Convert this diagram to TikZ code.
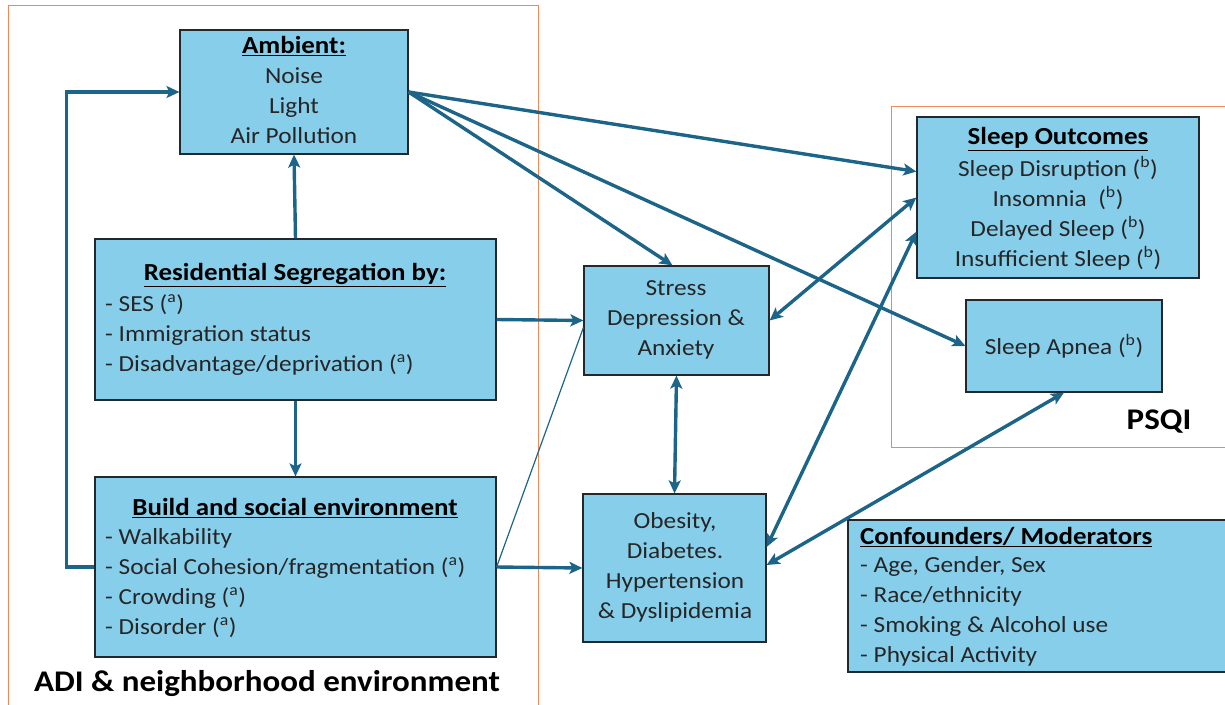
\documentclass[tikz,border=0pt]{standalone}
\usepackage{fontspec}
\setmainfont{Carlito}[FakeStretch=1.1]
\usetikzlibrary{arrows.meta,calc}
\definecolor{boxfill}{RGB}{135,206,235}
\definecolor{boxedge}{RGB}{35,40,45}
\definecolor{linkblue}{RGB}{28,100,136}
\definecolor{frameorange}{RGB}{240,135,85}
\definecolor{textgray}{RGB}{38,38,38}
\begin{document}
\begin{tikzpicture}[x=1pt,y=-1pt,
  box/.style={draw=boxedge,line width=1.2pt,fill=boxfill,inner sep=0pt},
  txt/.style={text=textgray,font=\fontsize{23}{30}\selectfont,inner sep=0pt,align=center},
  listtxt/.style={txt,align=left,anchor=west},
  head/.style={text=black,font=\bfseries\fontsize{24.5}{30}\selectfont,inner sep=0pt},
  label/.style={text=black,font=\bfseries\fontsize{30}{32}\selectfont,inner sep=0pt},
  link/.style={draw=linkblue,line width=3.4pt,-{Stealth[length=13pt,width=12pt,inset=3pt]}},
  both/.style={draw=linkblue,line width=3.4pt,{Stealth[length=13pt,width=12pt,inset=3pt]}-{Stealth[length=13pt,width=12pt,inset=3pt]}},
  frame/.style={draw=frameorange,line width=1pt}]
\clip (0,0) rectangle (1225,704);

% group frames
\draw[frame] (8,5) rectangle (538,720);
\draw[frame] (891,106) rectangle (1240,447);

% boxes
\node[box,minimum width=228pt,minimum height=124pt] (amb) at (294,92) {};
\node[box,minimum width=401pt,minimum height=161pt] (res) at (295.5,319.5) {};
\node[box,minimum width=401pt,minimum height=180pt] (build) at (295.5,567) {};
\node[box,minimum width=185pt,minimum height=109pt] (stress) at (676.5,320.5) {};
\node[box,minimum width=183pt,minimum height=148pt] (obes) at (674.5,568) {};
\node[box,minimum width=282pt,minimum height=161pt] (sleep) at (1058,197.5) {};
\node[box,minimum width=196pt,minimum height=92pt] (apnea) at (1064,346) {};
\node[box,minimum width=382pt,minimum height=152pt] (conf) at (1039,596) {};

% box texts
\node[head] (ambH) at (294,46) {\underline{Ambient:}};
\node[txt] (ambT) at (294,106) {Noise\\Light\\Air Pollution};

\node[head] (resH) at (295,275) {\underline{Residential Segregation by:}};
\node[listtxt] (resT) at (105,335) {- SES (\textsuperscript{a})\\- Immigration status\\- Disadvantage/deprivation (\textsuperscript{a})};

\node[head] (buildH) at (295,508) {\underline{Build and social environment}};
\node[listtxt] (buildT) at (105,583) {- Walkability\\- Social Cohesion/fragmentation (\textsuperscript{a})\\- Crowding (\textsuperscript{a})\\- Disorder (\textsuperscript{a})};

\node[txt] (stressT) at (676,320) {Stress\\Depression \&\\Anxiety};
\node[txt] (obesT) at (675,567) {Obesity,\\Diabetes.\\Hypertension\\\& Dyslipidemia};

\node[head] (sleepH) at (1058,139) {\underline{Sleep Outcomes}};
\node[txt] (sleepT) at (1058,213) {Sleep Disruption (\textsuperscript{b})\\Insomnia~ (\textsuperscript{b})\\Delayed Sleep (\textsuperscript{b})\\Insufficient Sleep (\textsuperscript{b})};
\node[txt] (apneaT) at (1064,346) {Sleep Apnea (\textsuperscript{b})};

\node[head,anchor=west] (confH) at (860,537) {\underline{Confounders/ Moderators}};
\node[listtxt] (confT) at (860,611.5) {- Age, Gender, Sex\\- Race/ethnicity\\- Smoking \& Alcohol use\\- Physical Activity};

% group labels
\node[label] (adi) at (267,684) {ADI \& neighborhood environment};
\node[label] (psqi) at (1159,422) {PSQI};

% connectors
\draw[link] (build.west) -- ++(-28,0) |- (amb.west);
\draw[link] (res.north) -- (amb.south);
\draw[link] (res.south) -- (build.north);
\draw[link] (res.east) -- (stress.west);
\draw[link] (build.east) -- (obes.west);
\draw[draw=linkblue,line width=1.2pt] (build.east) -- ($(stress.west)+(0,7)$);
\draw[link] (amb.east) -- ($(sleep.north west)!0.34!(sleep.south west)$);
\draw[link] (amb.east) -- ($(stress.north)+(-4,0)$);
\draw[link] (amb.east) -- (apnea.west);
\draw[both] (stress.east) -- (sleep.west);
\draw[both] (stress.south) -- (obes.north);
\draw[both] ($(obes.east)+(0,-21)$) -- ($(sleep.north west)!0.71!(sleep.south west)$);
\draw[both] ($(obes.east)+(0,-3)$) -- (apnea.south);
\end{tikzpicture}
\end{document}
